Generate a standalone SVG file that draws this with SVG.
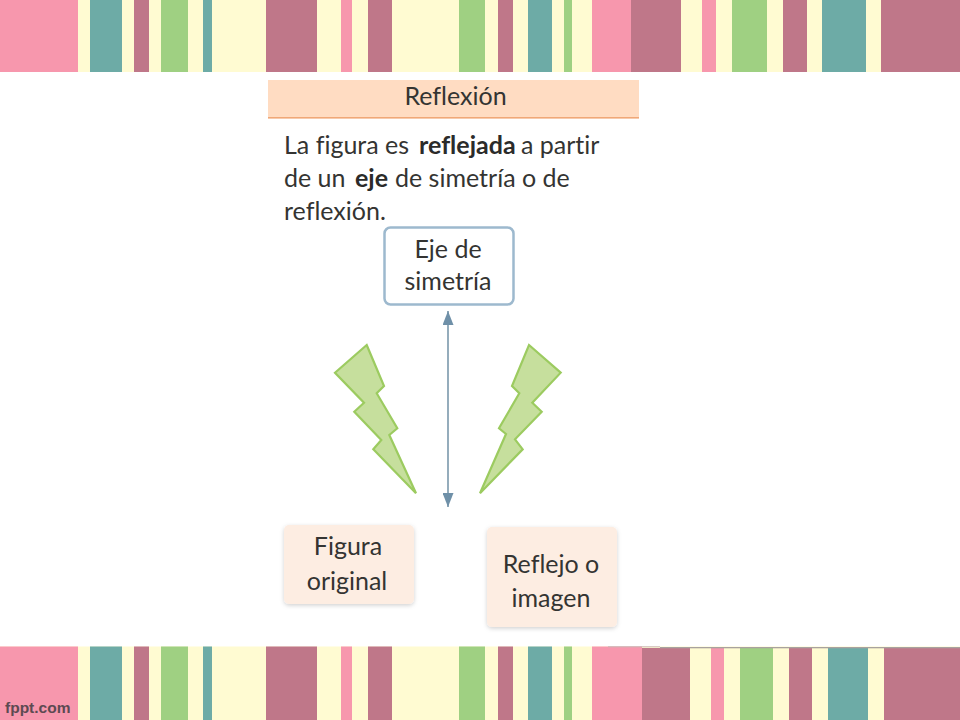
<svg xmlns="http://www.w3.org/2000/svg" width="960" height="720" viewBox="0 0 960 720">
<style>
.p{fill:#F797AD}.t{fill:#6DABA6}.r{fill:#BF7789}.g{fill:#9FD082}.c{fill:#FFFBD2}
text{font-family:"Lato","Liberation Sans",sans-serif;fill:#343432;font-size:25px;font-variant-ligatures:none}
.m{text-anchor:middle}
.b{font-weight:700;fill:#2b2b2a}
.bolt{fill:#C6DF9D;stroke:#9CCB60;stroke-width:2.2;stroke-linejoin:miter}
.peach{fill:#FDEDE2;filter:url(#sh)}
</style>
<defs>
<filter id="sh" x="-10%" y="-10%" width="120%" height="125%"><feDropShadow dx="0" dy="1.5" stdDeviation="2" flood-color="#000" flood-opacity="0.18"/></filter>
<marker id="ah" viewBox="0 0 14 11" refX="14" refY="5.5" markerWidth="14" markerHeight="11" markerUnits="userSpaceOnUse" orient="auto-start-reverse"><path d="M0 0L14 5.5L0 11Z" fill="#6F90A8"/></marker>
</defs>
<rect width="960" height="720" fill="#fff"/>
<g id="banda-superior">
<rect class="c" width="960" height="72"/>
<rect class="p" x="0" width="78" height="72"/><rect class="t" x="90" width="32" height="72"/><rect class="r" x="134" width="15" height="72"/><rect class="g" x="161" width="27" height="72"/><rect class="t" x="203" width="9" height="72"/><rect class="r" x="266" width="51" height="72"/><rect class="p" x="341" width="11" height="72"/><rect class="r" x="368" width="24" height="72"/><rect class="g" x="459" width="26" height="72"/><rect class="r" x="498" width="15" height="72"/><rect class="t" x="528" width="24" height="72"/><rect class="g" x="564" width="8" height="72"/><rect class="p" x="592" width="39" height="72"/><rect class="r" x="631" width="50" height="72"/><rect class="p" x="702" width="14" height="72"/><rect class="g" x="732" width="35" height="72"/><rect class="r" x="783" width="24" height="72"/><rect class="t" x="822" width="44" height="72"/><rect class="r" x="881" width="79" height="72"/>
</g>
<g id="banda-inferior">
<rect class="c" y="646.500" width="960" height="73.500"/>
<rect class="p" x="0" y="646.500" width="78" height="73.500"/><rect class="t" x="90" y="646.500" width="32" height="73.500"/><rect class="r" x="134" y="646.500" width="15" height="73.500"/><rect class="g" x="161" y="646.500" width="27" height="73.500"/><rect class="t" x="203" y="646.500" width="9" height="73.500"/><rect class="r" x="266" y="646.500" width="51" height="73.500"/><rect class="p" x="341" y="646.500" width="11" height="73.500"/><rect class="r" x="368" y="646.500" width="24" height="73.500"/><rect class="g" x="459" y="646.500" width="26" height="73.500"/><rect class="r" x="498" y="646.500" width="15" height="73.500"/><rect class="t" x="528" y="646.500" width="24" height="73.500"/><rect class="g" x="564" y="646.500" width="8" height="73.500"/>
<rect class="p" x="592" y="646.500" width="50" height="73.500"/><rect class="r" x="642" y="648" width="48" height="72"/><rect class="p" x="711" y="648" width="13" height="72"/><rect class="g" x="740" y="648" width="33" height="72"/><rect class="r" x="789" y="648" width="23" height="72"/><rect class="t" x="828" y="648" width="40" height="72"/><rect class="r" x="884" y="648" width="76" height="72"/>
<rect x="660" y="647" width="300" height="1.300" fill="#A9A29F"/><rect x="608" y="646.300" width="52" height="1" fill="#C9B6B6"/>
<text x="5" y="713" style="font-family:'Liberation Sans',sans-serif;font-size:15.500px;font-weight:700;fill:#5D4A52">fppt.com</text>
</g>
<g id="encabezado">
<rect x="268" y="80" width="371" height="37.500" fill="#FFDCC2"/>
<rect x="268" y="117" width="371" height="1.600" fill="#F0A878"/>
<text class="m" x="455.500" y="105">Reflexión</text>
</g>
<g id="definicion">
<text x="284" y="154">La figura es <tspan class="b" x="419">reflejada</tspan> <tspan x="521">a partir</tspan></text>
<text x="284" y="187">de un <tspan class="b" x="355">eje</tspan> <tspan x="395">de simetría o de</tspan></text>
<text x="284" y="220">reflexión.</text>
</g>
<g id="conectores">
<line x1="448" y1="311" x2="448" y2="507" stroke="#8AA4B5" stroke-width="1.800" marker-start="url(#ah)" marker-end="url(#ah)"/>
<polygon class="bolt" points="366.700,345 384,386 376.700,393.300 397.300,428.300 389.300,435 416,493.300 373.300,449.300 381.300,440 354.300,411.700 364,402.700 335,372.700"/>
<polygon class="bolt" points="529,345 560.700,372.700 532.300,402.700 541.700,411.700 515,439.300 522.700,449.300 480,493.300 506,434 499,428.300 519.300,393.300 512,386"/>
</g>
<g id="eje">
<rect x="384.500" y="227.500" width="129" height="77" rx="6" fill="#fff" stroke="#9DB9CE" stroke-width="2.500"/>
<text class="m" x="448" y="258">Eje de</text>
<text class="m" x="448" y="290">simetría</text>
</g>
<g id="figura">
<rect class="peach" x="284" y="525" width="130" height="79" rx="5"/>
<text class="m" x="348" y="555">Figura</text>
<text class="m" x="347" y="590">original</text>
</g>
<g id="reflejo">
<rect class="peach" x="487" y="527" width="130" height="100" rx="5"/>
<text class="m" x="551" y="573">Reflejo o</text>
<text class="m" x="551" y="607">imagen</text>
</g>
</svg>
